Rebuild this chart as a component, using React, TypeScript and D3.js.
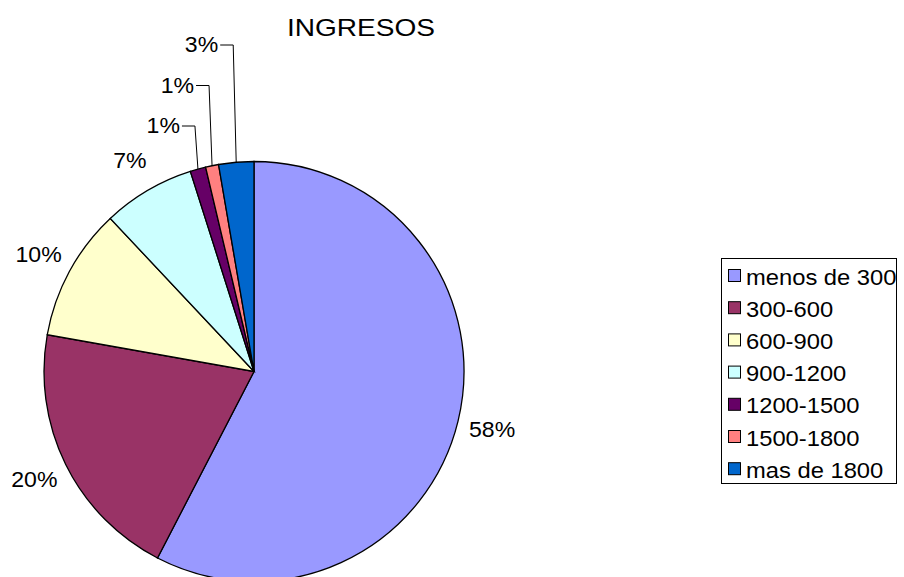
import React from "react";
import * as d3 from "d3";

const title = "INGRESOS";
const categories = ["menos de 300", "300-600", "600-900", "900-1200", "1200-1500", "1500-1800", "mas de 1800"];
const values = [57.6, 20.2, 10.2, 7.1, 1.2, 1.0, 2.7];
const colors = ["#9999FF", "#993366", "#FFFFCC", "#CCFFFF", "#660066", "#FF8080", "#0066CC"];

const W = 904;
const H = 577;
const cx = 254;
const cy = 371.5;
const R = 210;
const FONT = "Liberation Sans, Arial, sans-serif";

function SText(props: { x: number; y: number; sx: number; size: number; anchor?: string; baseline?: string; children: React.ReactNode }) {
  const { x, y, sx, size, anchor, baseline, children } = props;
  return (
    <g transform={`translate(${x},${y}) scale(${sx},1)`}>
      <text x={0} y={0} fontSize={size} textAnchor={anchor as any} dominantBaseline={baseline as any} fill="#000">
        {children}
      </text>
    </g>
  );
}

export default function App() {
  const total = d3.sum(values);
  const pie = d3.pie<number>().sort(null).value((d) => d)(values);
  const arc = d3.arc<d3.PieArcDatum<number>>().innerRadius(0).outerRadius(R);

  // leader-line labels for small slices (indices 4,5,6)
  const leaderLevels: Record<number, number> = { 4: 0, 5: 1, 6: 2 };

  return (
    <svg width={W} height={H} style={{ position: "absolute", left: 0, top: 0 }} fontFamily={FONT}>
      <rect width={W} height={H} fill="#fff" />
      <SText x={361} y={36} sx={1.17} size={24} anchor="middle">{title}</SText>
      <g transform={`translate(${cx},${cy})`}>
        {pie.map((p, i) => (
          <path key={i} d={arc(p) || ""} fill={colors[i]} stroke="#000" strokeWidth={1.3} />
        ))}
        {pie.map((p, i) => {
          const mid = (p.startAngle + p.endAngle) / 2;
          const label = `${Math.round((values[i] / total) * 100)}%`;
          if (i in leaderLevels) {
            const lvl = leaderLevels[i];
            const ax = Math.sin(mid) * R;
            const ay = -Math.cos(mid) * R;
            const ly = -R - 35.5 - lvl * 40.5;
            const topX = ax - 3;
            const lx = topX - 13;
            return (
              <g key={"l" + i}>
                <polyline points={`${ax},${ay} ${topX},${ly} ${lx},${ly}`} fill="none" stroke="#000" strokeWidth={1} />
                <SText x={lx - 2} y={ly} sx={1.05} size={22} anchor="end" baseline="central">{label}</SText>
              </g>
            );
          }
          const lr = R + 35;
          return (
            <SText key={"t" + i} x={Math.sin(mid) * lr} y={-Math.cos(mid) * lr} sx={1.05} size={22} anchor="middle" baseline="central">
              {label}
            </SText>
          );
        })}
      </g>
      <g>
        <rect x={721.5} y={258.5} width={175} height={225} fill="#fff" stroke="#000" strokeWidth={1} />
        {categories.map((c, i) => {
          const y = 276 + i * 32.2;
          return (
            <g key={c}>
              <rect x={728.5} y={y - 6.5} width={12} height={12} fill={colors[i]} stroke="#000" strokeWidth={1} />
              <SText x={746} y={y + 1} sx={1.08} size={22} baseline="central">{c}</SText>
            </g>
          );
        })}
      </g>
    </svg>
  );
}
